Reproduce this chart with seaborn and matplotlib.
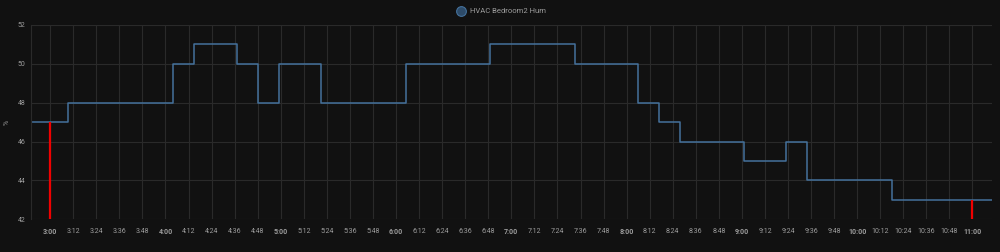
import matplotlib
matplotlib.use("Agg")
import matplotlib.pyplot as plt
from matplotlib.lines import Line2D
import seaborn as sns
import pandas as pd

# step change times (HH:MM) and humidity values (%)
step_times = ["2:50", "3:09", "4:04", "4:15", "4:37", "4:48", "4:59", "5:21", "6:05",
              "6:49", "7:33", "8:06", "8:17", "8:28", "9:01", "9:23", "9:34", "10:18", "11:10"]
step_values = [47, 48, 50, 51, 50, 48, 50, 48, 50,
               51, 50, 48, 47, 46, 45, 46, 44, 43, 43]

# red marker lines (time, value)
marker_times = ["3:00", "11:00"]
marker_values = [47, 43]

tick_labels = ["3:00", "3:12", "3:24", "3:36", "3:48", "4:00", "4:12", "4:24", "4:36", "4:48",
               "5:00", "5:12", "5:24", "5:36", "5:48", "6:00", "6:12", "6:24", "6:36", "6:48",
               "7:00", "7:12", "7:24", "7:36", "7:48", "8:00", "8:12", "8:24", "8:36", "8:48",
               "9:00", "9:12", "9:24", "9:36", "9:48", "10:00", "10:12", "10:24", "10:36", "10:48",
               "11:00"]
y_ticks = [42, 44, 46, 48, 50, 52]
series_name = "HVAC Bedroom2 Hum"
unit = "%"


def to_min(t):
    h, m = t.split(":")
    return int(h) * 60 + int(m)


df = pd.DataFrame({"t": [to_min(t) for t in step_times], "v": step_values})

BG = "#111111"
GRID = "#2a2a2a"
TXT = "#9d9d9d"
LINE = "#44719c"

sns.set_theme(style="dark")
plt.rcParams["font.family"] = ["Roboto", "DejaVu Sans"]

fig = plt.figure(figsize=(10, 2.52), dpi=100, facecolor=BG)
ax = fig.add_axes([0.031, 0.1298, 0.9607, 0.7710])
ax.set_facecolor(BG)

sns.lineplot(data=df, x="t", y="v", drawstyle="steps-post", color=LINE, linewidth=1.1, ax=ax)

mt = [to_min(t) for t in marker_times]
ax.vlines(mt, 42, marker_values, colors="#f00000", linewidth=1.6, zorder=3)

ax.set_xlim(to_min("2:50"), to_min("11:10"))
ax.set_ylim(42, 52)

xt = [to_min(t) for t in tick_labels]
ax.set_xticks(xt)
ax.set_xticklabels(tick_labels)
for lab, t in zip(ax.get_xticklabels(), tick_labels):
    lab.set_fontweight("bold" if t.endswith(":00") else "normal")
ax.set_yticks(y_ticks)
ax.set_yticklabels([str(v) for v in y_ticks])

ax.tick_params(axis="both", colors=TXT, labelsize=5, length=0, pad=4)
ax.tick_params(axis="x", pad=6)
ax.grid(True, color=GRID, linewidth=0.8)
for s in ["top", "right", "bottom"]:
    ax.spines[s].set_visible(False)
ax.spines["left"].set_visible(True)
ax.spines["left"].set_color(GRID)
ax.spines["left"].set_linewidth(0.8)

ax.set_xlabel("")
ax.set_ylabel(unit, color=TXT, fontsize=5, labelpad=5)

handle = Line2D([], [], marker="o", linestyle="none", markersize=7,
                markerfacecolor="#2d4b69", markeredgecolor=LINE, markeredgewidth=0.8)
leg = fig.legend([handle], [series_name], loc="upper center", bbox_to_anchor=(0.5, 0.995),
                 frameon=False, fontsize=5.5, handletextpad=0.2, labelcolor=TXT)

fig.savefig("out.png", dpi=100, facecolor=BG)
